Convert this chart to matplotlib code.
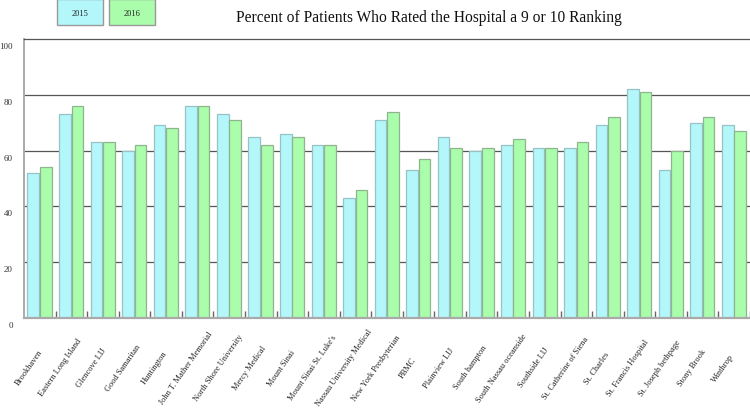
import matplotlib
matplotlib.use("Agg")
import matplotlib.pyplot as plt
from matplotlib.patches import Rectangle
import matplotlib.transforms as mtransforms
import numpy as np

hospitals = ["Brookhaven", "Eastern Long Island", "Glencove LIJ", "Good Samaritan",
             "Huntington", "John T. Mather Memorial", "North Shore University",
             "Mercy Medical", "Mount Sinai", "Mount Sinai St. Luke's",
             "Nassau University Medical", "New York Presbyterian", "PBMC",
             "Plainview LIJ", "South hampton", "South Nassau oceanside",
             "Southside LIJ", "St. Catherine of Siena", "St. Charles",
             "St. Francis Hospital", "St. Joseph bethpage", "Stony Brook", "Winthrop"]
vals_2015 = [52, 73, 63, 60, 69, 76, 73, 65, 66, 62, 43, 71, 53, 65, 60, 62, 61, 61, 69, 82, 53, 70, 69]
vals_2016 = [54, 76, 63, 62, 68, 76, 71, 62, 65, 62, 46, 74, 57, 61, 61, 64, 61, 63, 72, 81, 60, 72, 67]
series_names = ["2015", "2016"]
yticks = [0, 20, 40, 60, 80, 100]
title = "Percent of Patients Who Rated the Hospital a 9 or 10 Ranking"

c15, c16 = "#b3f7fb", "#aafdab"
e15, e16 = "#95c3c6", "#8fb58f"
serif = ["Liberation Serif", "DejaVu Serif"]

fig = plt.figure(figsize=(7.5, 4.1), dpi=100)
ax = fig.add_axes([24/750, (410-319)/410, 726/750, 279/410])

x = np.arange(len(hospitals))
w = 0.37
ax.bar(x - 0.205, vals_2015, w, color=c15, edgecolor=e15, linewidth=0.9, zorder=3)
ax.bar(x + 0.19, vals_2016, w, color=c16, edgecolor=e16, linewidth=0.9, zorder=3)

ax.set_xlim(-0.5, len(hospitals) - 0.5)
ax.set_ylim(0, 100)

for t in yticks[1:-1]:
    ax.axhline(t, color="#555555", linewidth=0.9, zorder=1)

ax.spines["right"].set_visible(False)
ax.spines["top"].set_color("#555555")
ax.spines["top"].set_linewidth(0.9)
ax.spines["left"].set_color("#aaaaaa")
ax.spines["left"].set_linewidth(1.4)
ax.spines["bottom"].set_color("#aaaaaa")
ax.spines["bottom"].set_linewidth(1.6)
ax.spines["bottom"].set_zorder(4)

ax.set_xticks(x + 0.5)
ax.set_xticklabels([])
ax.tick_params(axis="x", direction="in", length=5, width=1, color="#666666")
ax.set_yticks(yticks)
ax.set_yticklabels([])
ax.tick_params(axis="y", length=0)

ytr = ax.get_yaxis_transform()
off = mtransforms.ScaledTranslation(0, -7/100, fig.dpi_scale_trans)
for t in yticks:
    ax.text(-11/726, t, str(t), transform=ytr + off, ha="right", va="center",
            fontsize=6.5, family=serif, color="#333333")

xtr = ax.get_xaxis_transform()
for i, name in enumerate(hospitals):
    ax.text(i - 0.35, -0.176, name, transform=xtr, rotation=55, ha="center",
            va="center", rotation_mode="anchor", fontsize=6, family=serif,
            color="#222222")

fig.text(429/750, 1 - 18/410, title, ha="center", va="center", fontsize=11.2,
         family=serif, color="#111111")

for k, (name, fc) in enumerate(zip(series_names, [c15, c16])):
    x0 = 57 + k * 52
    r = Rectangle((x0/750, (410-26)/410), 46/750, 26/410, transform=fig.transFigure,
                  facecolor=fc, edgecolor="#999999", linewidth=1)
    fig.add_artist(r)
    fig.text((x0 + 23)/750, 1 - 14.5/410, name, ha="center", va="center",
             fontsize=6, family=serif, color="#222222")

fig.savefig("out.png", dpi=100)
